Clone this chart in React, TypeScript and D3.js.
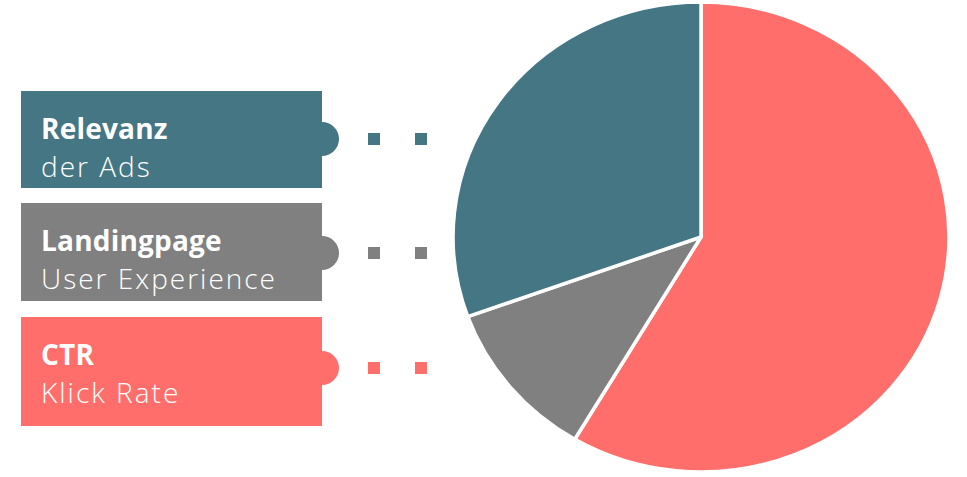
import React from "react";
import * as d3 from "d3";

const categories = ["CTR", "Landingpage", "Relevanz"];
const subtitles = ["Klick Rate", "User Experience", "der Ads"];
const shares = [58.5, 11, 30.5];
const colors = ["#ff6e6a", "#808080", "#457684"];

// legend order (top to bottom)
const legendOrder = [2, 1, 0];
const boxTops = [91, 203, 317];
const boxHeights = [97, 98, 109];
const nubYs = [139, 253, 368];

const W = 967;
const H = 477;

export default function App() {
  const cx = 701;
  const cy = 237;
  const r = 235;
  const sx = 1.055;
  const pie = d3.pie<number>().sort(null).value((d) => d)(shares);
  const arc = d3.arc<d3.PieArcDatum<number>>().innerRadius(0).outerRadius(r);
  const font = "'Open Sans', sans-serif";
  return (
    <div style={{ position: "absolute", left: 0, top: 0 }}>
      <svg width={W} height={H} style={{ display: "block" }}>
        <rect width={W} height={H} fill="#ffffff" />
        <g transform={`translate(${cx},${cy}) scale(${sx},1)`}>
          {pie.map((p, i) => (
            <path
              key={i}
              d={arc(p) || ""}
              fill={colors[i]}
              stroke="#ffffff"
              strokeWidth={3.5}
              strokeLinejoin="round"
              vectorEffect="non-scaling-stroke"
            />
          ))}
        </g>
        {legendOrder.map((idx, k) => {
          const top = boxTops[k];
          const h = boxHeights[k];
          const ny = nubYs[k];
          return (
            <g key={idx}>
              <rect x={21} y={top} width={301} height={h} fill={colors[idx]} />
              <circle cx={322} cy={ny} r={17} fill={colors[idx]} />
              <rect x={368} y={ny - 6} width={12} height={12} fill={colors[idx]} />
              <rect x={415} y={ny - 6} width={12} height={12} fill={colors[idx]} />
              <text
                x={41}
                y={top + 48}
                fill="#ffffff"
                fontFamily={font}
                fontWeight={700}
                fontSize={28}
                letterSpacing={0.2}
              >
                {categories[idx]}
              </text>
              <text
                x={41}
                y={top + 86}
                fill="#ffffff"
                fontFamily={font}
                fontWeight={300}
                fontSize={28}
                letterSpacing={2}
              >
                {subtitles[idx]}
              </text>
            </g>
          );
        })}
      </svg>
    </div>
  );
}
